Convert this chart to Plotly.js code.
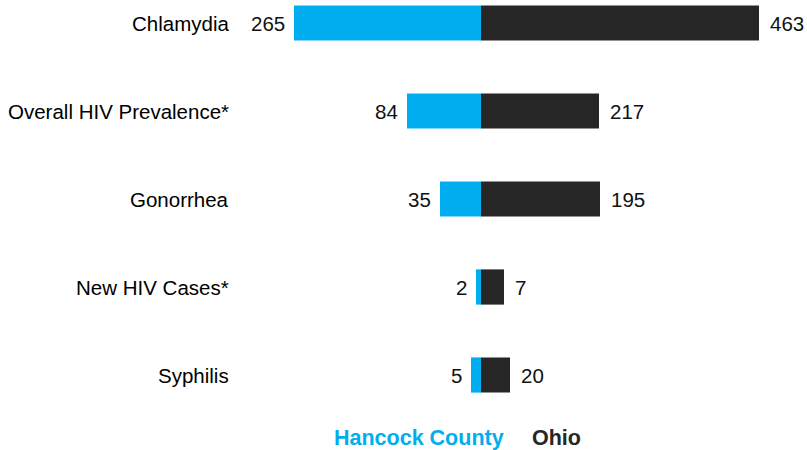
<!DOCTYPE html>
<html>
<head>
<meta charset="utf-8">
<script src="https://cdn.plot.ly/plotly-3.0.1.min.js"></script>
<style>html,body{margin:0;padding:0;background:#fff;}#chart{width:807px;height:450px;}</style>
</head>
<body>
<div id="chart"></div>
<script>
// Categories (top to bottom)
const categories = ["Chlamydia", "Overall HIV Prevalence*", "Gonorrhea", "New HIV Cases*", "Syphilis"];
// Labelled values
const hancockValues = [265, 84, 35, 2, 5];
const ohioValues = [463, 217, 195, 7, 20];
// Drawn bar magnitudes (the bars are not proportional to the labels)
const hancockBarLength = [187, 74, 41, 5, 10];
const ohioBarLength = [278, 118, 119, 23, 29];
// Series names
const seriesNames = ["Hancock County", "Ohio"];

const BLUE = "#00AEEF";
const DARK = "#262626";
const FONT = "Arial, 'Liberation Sans', sans-serif";
const W = 807, H = 450;
const FS = 20.5;
const LFS = 21.5;

const traces = [
  {
    type: "bar", orientation: "h", name: seriesNames[0],
    y: categories, x: hancockBarLength.map(v => -v),
    marker: {color: BLUE, line: {width: 0}}, hoverinfo: "skip"
  },
  {
    type: "bar", orientation: "h", name: seriesNames[1],
    y: categories, x: ohioBarLength,
    marker: {color: DARK, line: {width: 0}}, hoverinfo: "skip"
  }
];

const annotations = [];
categories.forEach((c, i) => {
  annotations.push({
    xref: "paper", yref: "y", x: 231 / W, y: c, xanchor: "right", yanchor: "middle",
    text: c, showarrow: false, font: {family: FONT, size: FS, color: "#000000"}
  });
  annotations.push({
    xref: "x", yref: "y", x: -hancockBarLength[i], y: c, xanchor: "right", yanchor: "middle",
    xshift: -7, text: String(hancockValues[i]), showarrow: false,
    font: {family: FONT, size: FS, color: "#111111"}
  });
  annotations.push({
    xref: "x", yref: "y", x: ohioBarLength[i], y: c, xanchor: "left", yanchor: "middle",
    xshift: 9, text: String(ohioValues[i]), showarrow: false,
    font: {family: FONT, size: FS, color: "#111111"}
  });
});
// Legend as coloured text
annotations.push({
  xref: "paper", yref: "paper", x: 332 / W, y: 1 - 438 / H, xanchor: "left", yanchor: "middle",
  text: "<b>" + seriesNames[0] + "</b>", showarrow: false,
  font: {family: FONT, size: LFS, color: BLUE}
});
annotations.push({
  xref: "paper", yref: "paper", x: 530 / W, y: 1 - 438 / H, xanchor: "left", yanchor: "middle",
  text: "<b>" + seriesNames[1] + "</b>", showarrow: false,
  font: {family: FONT, size: LFS, color: DARK}
});

const rowPx = 88, firstRowPx = 23;
const layout = {
  width: W, height: H,
  margin: {l: 0, r: 0, t: 0, b: 0, pad: 0},
  paper_bgcolor: "#ffffff", plot_bgcolor: "#ffffff",
  showlegend: false,
  barmode: "overlay",
  bargap: 0.6,
  xaxis: {range: [-481, W - 481], showgrid: false, zeroline: false, showticklabels: false, showline: false, fixedrange: true},
  yaxis: {
    type: "category",
    range: [(H - firstRowPx) / rowPx, -firstRowPx / rowPx],
    showgrid: false, zeroline: false, showticklabels: false, showline: false, fixedrange: true
  },
  annotations: annotations,
  font: {family: FONT}
};

Plotly.newPlot("chart", traces, layout, {staticPlot: true, displayModeBar: false});
</script>
</body>
</html>
